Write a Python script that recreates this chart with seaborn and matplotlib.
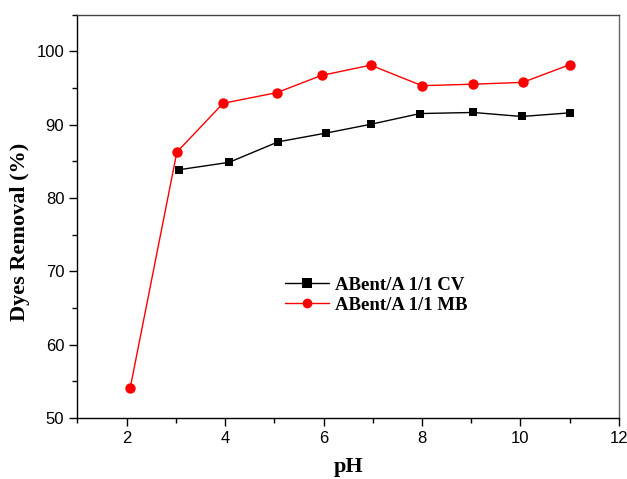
import matplotlib
matplotlib.use("Agg")
import matplotlib.pyplot as plt
import seaborn as sns
import pandas as pd
from matplotlib.ticker import MultipleLocator

# pH values and removal (%)
ph_cv = [3.07, 4.08, 5.08, 6.06, 6.97, 7.96, 9.04, 10.03, 11.01]
removal_cv = [83.85, 84.85, 87.65, 88.85, 90.05, 91.5, 91.65, 91.1, 91.6]
ph_mb = [2.07, 3.02, 3.96, 5.05, 5.96, 6.96, 8.0, 9.03, 10.05, 11.0]
removal_mb = [54.05, 86.25, 92.9, 94.35, 96.7, 98.1, 95.3, 95.5, 95.75, 98.15]
labels = ["ABent/A 1/1 CV", "ABent/A 1/1 MB"]

df = pd.concat([
    pd.DataFrame({"pH": ph_cv, "Removal": removal_cv, "Sample": labels[0]}),
    pd.DataFrame({"pH": ph_mb, "Removal": removal_mb, "Sample": labels[1]}),
])

sns.set_style("ticks")
plt.rcParams['font.family'] = ['Liberation Sans', 'DejaVu Sans']
plt.rcParams['text.color'] = 'black'
plt.rcParams['axes.labelcolor'] = 'black'
plt.rcParams['xtick.color'] = 'black'
plt.rcParams['ytick.color'] = 'black'

fig = plt.figure(figsize=(6.27, 4.79), dpi=100)
ax = fig.add_axes([0.1236, 0.1273, 0.8632, 0.8424])

sns.lineplot(data=df, x="pH", y="Removal", hue="Sample", style="Sample",
             palette=["black", "red"], markers=["s", "o"], dashes=False,
             markersize=6, linewidth=1, markeredgewidth=0, sort=False, ax=ax)
# circles look a bit larger than the squares in the original
ax.lines[1].set_markersize(7.5)

ax.set_xlim(1, 12)
ax.set_ylim(50, 105)
ax.xaxis.set_major_locator(MultipleLocator(2))
ax.xaxis.set_minor_locator(MultipleLocator(1))
ax.yaxis.set_major_locator(MultipleLocator(10))
ax.yaxis.set_minor_locator(MultipleLocator(5))
ax.tick_params(which="major", length=6, width=1, labelsize=12, direction="out")
ax.tick_params(which="minor", length=3.5, width=1, direction="out")
for s in ax.spines.values():
    s.set_linewidth(1)
    s.set_color("black")
ax.spines["right"].set_color("#666666")
ax.spines["top"].set_color("#444444")

ax.set_xlabel("pH", fontsize=16, fontweight="bold", family="Liberation Serif", labelpad=8)
ax.set_ylabel("Dyes Removal (%)", fontsize=16, fontweight="bold", family="Liberation Serif")
# label sits a bit below the axes centre in the original
ax.yaxis.set_label_coords(-0.087, 0.462)

leg = ax.legend(loc="upper left", bbox_to_anchor=(0.353, 0.392), frameon=False,
                prop={"family": "Liberation Serif", "weight": "bold", "size": 13.5},
                handlelength=2.3, handletextpad=0.35, labelspacing=0.15)
for h in leg.legend_handles:
    h.set_markersize(7)

fig.savefig("out.png", dpi=100)
